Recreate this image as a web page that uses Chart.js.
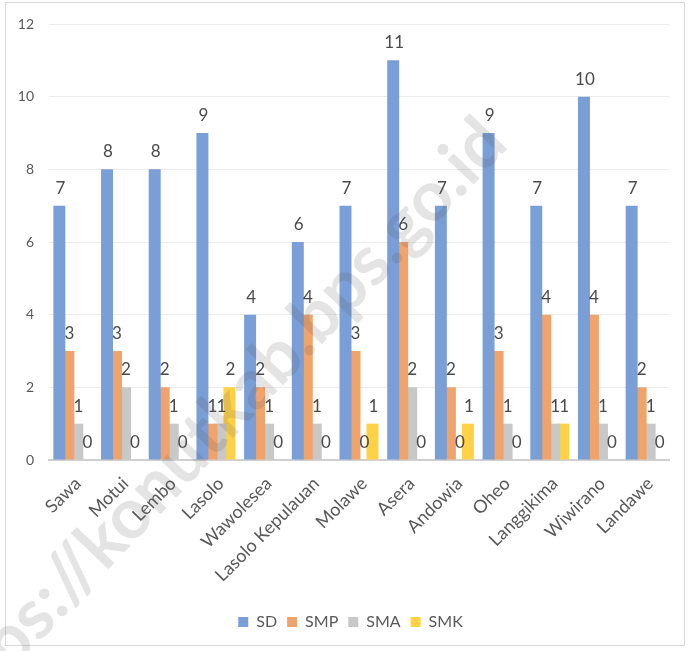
<!DOCTYPE html>
<html>
<head>
<meta charset="utf-8">
<script src="https://cdn.jsdelivr.net/npm/chart.js@4/dist/chart.umd.min.js"></script>
<style>
  html, body { margin: 0; padding: 0; background: #fff; }
  #wrap { width: 690px; height: 651px; }
</style>
</head>
<body>
<div id="wrap"><canvas id="mycanvas" width="690" height="651"></canvas></div>
<script>
// kecamatan
var categories = ['Sawa', 'Motui', 'Lembo', 'Lasolo', 'Wawolesea', 'Lasolo Kepulauan', 'Molawe',
	'Asera', 'Andowia', 'Oheo', 'Langgikima', 'Wiwirano', 'Landawe'];
var sd  = [7, 8, 8, 9, 4, 6, 7, 11, 7, 9, 7, 10, 7];
var smp = [3, 3, 2, 1, 2, 4, 3, 6, 2, 3, 4, 4, 2];
var sma = [1, 2, 1, 1, 1, 1, 0, 2, 0, 1, 1, 1, 1];
var smk = [0, 0, 0, 2, 0, 0, 1, 0, 1, 0, 1, 0, 0];
var yTicks = [0, 2, 4, 6, 8, 10, 12];
var watermark = 'https://konutkab.bps.go.id';

var FONT = 'Lato, "Open Sans", sans-serif';

// value labels above each bar
var valueLabels = {
	id: 'valueLabels',
	afterDatasetsDraw: function(chart) {
		var ctx = chart.ctx;
		ctx.save();
		ctx.font = '17px ' + FONT;
		ctx.fillStyle = '#4a4a4a';
		ctx.textAlign = 'center';
		ctx.textBaseline = 'alphabetic';
		chart.data.datasets.forEach(function(ds, i) {
			var meta = chart.getDatasetMeta(i);
			meta.data.forEach(function(bar, j) {
				ctx.fillText(ds.data[j], bar.x + 1, bar.y - 12);
			});
		});
		ctx.restore();
	}
};

// legend sits a bit right of the plot centre in the original
var legendShift = {
	id: 'legendShift',
	afterLayout: function(chart) {
		chart.legend.left += 16;
		chart.legend.right += 16;
	}
};

// frame + watermark
var decor = {
	id: 'decor',
	afterDraw: function(chart) {
		var ctx = chart.ctx;
		ctx.save();
		ctx.strokeStyle = '#d9d9d9';
		ctx.lineWidth = 1;
		ctx.strokeRect(5.5, 2.5, 679, 643);

		ctx.translate(510, 146);
		ctx.rotate(-46.5 * Math.PI / 180);
		ctx.font = 'bold 70px ' + FONT;
		ctx.fillStyle = 'rgba(90, 90, 90, 0.16)';
		ctx.textAlign = 'right';
		ctx.textBaseline = 'alphabetic';
		ctx.fillText(watermark, 0, 0);
		ctx.restore();
	}
};

function makeSet(label, data, color) {
	return {
		label: label,
		data: data,
		backgroundColor: color,
		borderWidth: 0,
		barPercentage: 1.33,
		categoryPercentage: 0.755
	};
}

var chartdata = {
	labels: categories,
	datasets: [
		makeSet('SD', sd, 'rgb(122, 158, 214)'),
		makeSet('SMP', smp, 'rgb(241, 163, 108)'),
		makeSet('SMA', sma, 'rgb(200, 200, 200)'),
		makeSet('SMK', smk, 'rgb(255, 210, 70)')
	]
};

var ctx = document.getElementById('mycanvas');

var BarGraph = new Chart(ctx, {
	type: 'bar',
	data: chartdata,
	plugins: [valueLabels, legendShift, decor],
	options: {
		responsive: false,
		animation: false,
		layout: { padding: { top: 24, right: 21, bottom: 11, left: 0 } },
		plugins: {
			tooltip: { enabled: false },
			legend: {
				position: 'bottom',
				labels: {
					boxWidth: 10,
					boxHeight: 10,
					padding: 10,
					color: '#595959',
					font: { family: FONT, size: 16 }
				}
			}
		},
		scales: {
			x: {
				afterFit: function(scale) { scale.height = 144; },
				grid: { display: false },
				border: { display: true, color: '#d0d0d0', width: 2 },
				ticks: {
					minRotation: 45,
					maxRotation: 45,
					autoSkip: false,
					padding: 5,
					labelOffset: 5,
					color: '#595959',
					font: { family: FONT, size: 18 }
				}
			},
			y: {
				min: 0,
				max: 12,
				afterFit: function(scale) { scale.width = 49; },
				afterBuildTicks: function(scale) {
					scale.ticks = yTicks.map(function(v) { return { value: v }; });
				},
				grid: { color: '#ececec', drawTicks: false },
				border: { display: false },
				ticks: {
					padding: 15,
					color: '#595959',
					font: { family: FONT, size: 14 }
				}
			}
		}
	}
});
</script>
</body>
</html>
